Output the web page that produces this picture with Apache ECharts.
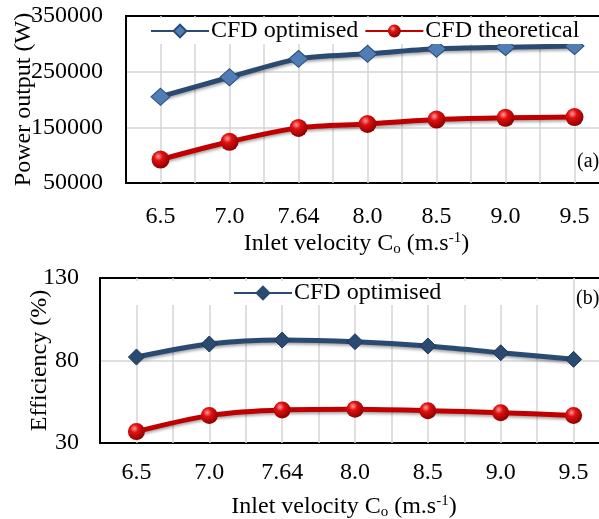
<!DOCTYPE html>
<html>
<head>
<meta charset="utf-8">
<script src="https://cdn.jsdelivr.net/npm/echarts@6/dist/echarts.min.js"></script>
<style>
  html, body { margin: 0; padding: 0; background: #fff; }
  #chart { width: 599px; height: 519px; }
</style>
</head>
<body>
<div id="chart"></div>
<script>
const velocities = ['6.5', '7.0', '7.64', '8.0', '8.5', '9.0', '9.5'];
const powerOptimised = [205000, 240000, 273000, 282000, 291000, 294000, 296000];
const powerTheoretical = [92000, 124000, 149000, 156000, 164000, 167000, 168500];
const effOptimised = [82.1, 90.0, 92.4, 91.4, 88.8, 84.7, 80.7];
const effTheoretical = [36.9, 46.6, 50.0, 50.4, 49.6, 48.4, 46.6];
const powerTicks = [50000, 350000, 100000];   // min, max, step
const effTicks = [30, 130, 50];

const FONT = 'Liberation Serif';
const GRID_LINE = { color: '#D4D4D4', width: 1.5 };
const BLUE = '#2B4A72';
const RED = '#C00000';

const redBall = {
    type: 'radial', x: 0.38, y: 0.32, r: 0.7,
    colorStops: [
        { offset: 0, color: '#FF9A9A' },
        { offset: 0.35, color: '#E01010' },
        { offset: 1, color: '#8A0000' }
    ]
};
const lineShadow = { shadowColor: 'rgba(0,0,0,0.35)', shadowBlur: 3, shadowOffsetY: 2 };

// half-category split lines (boundaries + centres)
const halfCats = Array.from({ length: velocities.length * 2 }, () => '');

const xName = 'Inlet velocity C{sub|o} (m.s{sup|-1})';
const nameRich = {
    sub: { fontSize: 15, fontFamily: FONT, color: '#000', padding: [12, 0, 0, 0] },
    sup: { fontSize: 15, fontFamily: FONT, color: '#000', padding: [0, 0, 10, 0] }
};

function catAxis(gridIndex, margin, nameGap) {
    return {
        type: 'category', gridIndex, data: velocities, position: 'bottom',
        axisLine: { show: false }, axisTick: { show: false },
        axisLabel: { fontFamily: FONT, fontSize: 24, color: '#000', margin },
        splitLine: { show: false },
        name: xName, nameLocation: 'middle', nameGap, nameMoveOverlap: false,
        nameTextStyle: { fontFamily: FONT, fontSize: 24, color: '#000', rich: nameRich, padding: [0, 22, 0, 0] }
    };
}
function splitAxis(gridIndex) {
    return {
        type: 'category', gridIndex, data: halfCats, position: 'top',
        axisLine: { show: false }, axisTick: { show: false }, axisLabel: { show: false },
        splitLine: { show: true, lineStyle: GRID_LINE, showMinLine: false, showMaxLine: false }
    };
}
function valAxis(gridIndex, ticks, name, margin, nameGap) {
    return {
        type: 'value', gridIndex, min: ticks[0], max: ticks[1], interval: ticks[2], z: 2,
        axisLine: { show: true, lineStyle: { color: '#000', width: 2 } }, axisTick: { show: false },
        axisLabel: { fontFamily: FONT, fontSize: 24, color: '#000', margin, formatter: v => String(v) },
        splitLine: { show: true, lineStyle: GRID_LINE, showMinLine: false, showMaxLine: false },
        name, nameLocation: 'middle', nameGap, nameMoveOverlap: false,
        nameTextStyle: { fontFamily: FONT, fontSize: 24, color: '#000' }
    };
}

const chart = echarts.init(document.getElementById('chart'), null, { renderer: 'canvas' });
chart.setOption({
    animation: false,
    backgroundColor: '#fff',
    textStyle: { fontFamily: FONT },
    grid: [
        { left: 126, top: 16, width: 483, height: 167, show: true, borderColor: '#000', borderWidth: 2, backgroundColor: 'transparent', outerBoundsMode: 'none', containLabel: false },
        { left: 100, top: 278, width: 510, height: 165, show: true, borderColor: '#000', borderWidth: 2, backgroundColor: 'transparent', outerBoundsMode: 'none', containLabel: false }
    ],
    legend: [
        {
            data: ['CFD optimised', 'CFD theoretical'],
            left: 146, top: 18, padding: [1, 4, 1, 4], itemGap: 6,
            itemWidth: 58, itemHeight: 16, backgroundColor: '#fff',
            textStyle: { fontFamily: FONT, fontSize: 24, color: '#000', padding: [0, 0, 0, -3] }
        },
        {
            data: [{ name: 'CFD optimised', itemStyle: { color: BLUE, borderColor: BLUE } }],
            left: 102, top: 281, padding: [0, 131, 0, 131],
            itemWidth: 58, itemHeight: 16, backgroundColor: '#fff',
            textStyle: { fontFamily: FONT, fontSize: 24, color: '#000', padding: [0, 0, 0, -3] }
        }
    ],
    xAxis: [catAxis(0, 22, 47), splitAxis(0), catAxis(1, 18, 50), splitAxis(1)],
    yAxis: [
        valAxis(0, powerTicks, 'Power output (W)', 23, 90),
        valAxis(1, effTicks, 'Efficiency (%)', 21, 48)
    ],
    graphic: [
        { type: 'text', left: 577, top: 152, style: { text: '(a)', font: '20px ' + FONT, fill: '#000' } },
        { type: 'text', left: 576, top: 289, style: { text: '(b)', font: '20px ' + FONT, fill: '#000' } }
    ],
    series: [
        {
            name: 'CFD optimised', type: 'line', xAxisIndex: 0, yAxisIndex: 0, data: powerOptimised,
            smooth: 0.3, symbol: 'diamond', symbolSize: [19, 17],
            lineStyle: { color: BLUE, width: 5, ...lineShadow },
            itemStyle: { color: '#4F7DB5', borderColor: '#2B4A72', borderWidth: 1 }, z: 3
        },
        {
            name: 'CFD theoretical', type: 'line', xAxisIndex: 0, yAxisIndex: 0, data: powerTheoretical,
            smooth: 0.3, symbol: 'circle', symbolSize: 18,
            lineStyle: { color: RED, width: 5, ...lineShadow },
            itemStyle: { color: redBall, borderWidth: 0 }, z: 3
        },
        {
            name: 'CFD optimised', type: 'line', xAxisIndex: 2, yAxisIndex: 1, data: effOptimised,
            smooth: 0.3, symbol: 'diamond', symbolSize: [16, 16],
            lineStyle: { color: BLUE, width: 5, ...lineShadow },
            itemStyle: { color: BLUE, borderColor: '#1E3556', borderWidth: 1 }, z: 3
        },
        {
            name: 'CFD theoretical', type: 'line', xAxisIndex: 2, yAxisIndex: 1, data: effTheoretical,
            smooth: 0.3, symbol: 'circle', symbolSize: 17,
            lineStyle: { color: RED, width: 5, ...lineShadow },
            itemStyle: { color: redBall, borderWidth: 0 }, z: 3
        }
    ]
});
</script>
</body>
</html>
